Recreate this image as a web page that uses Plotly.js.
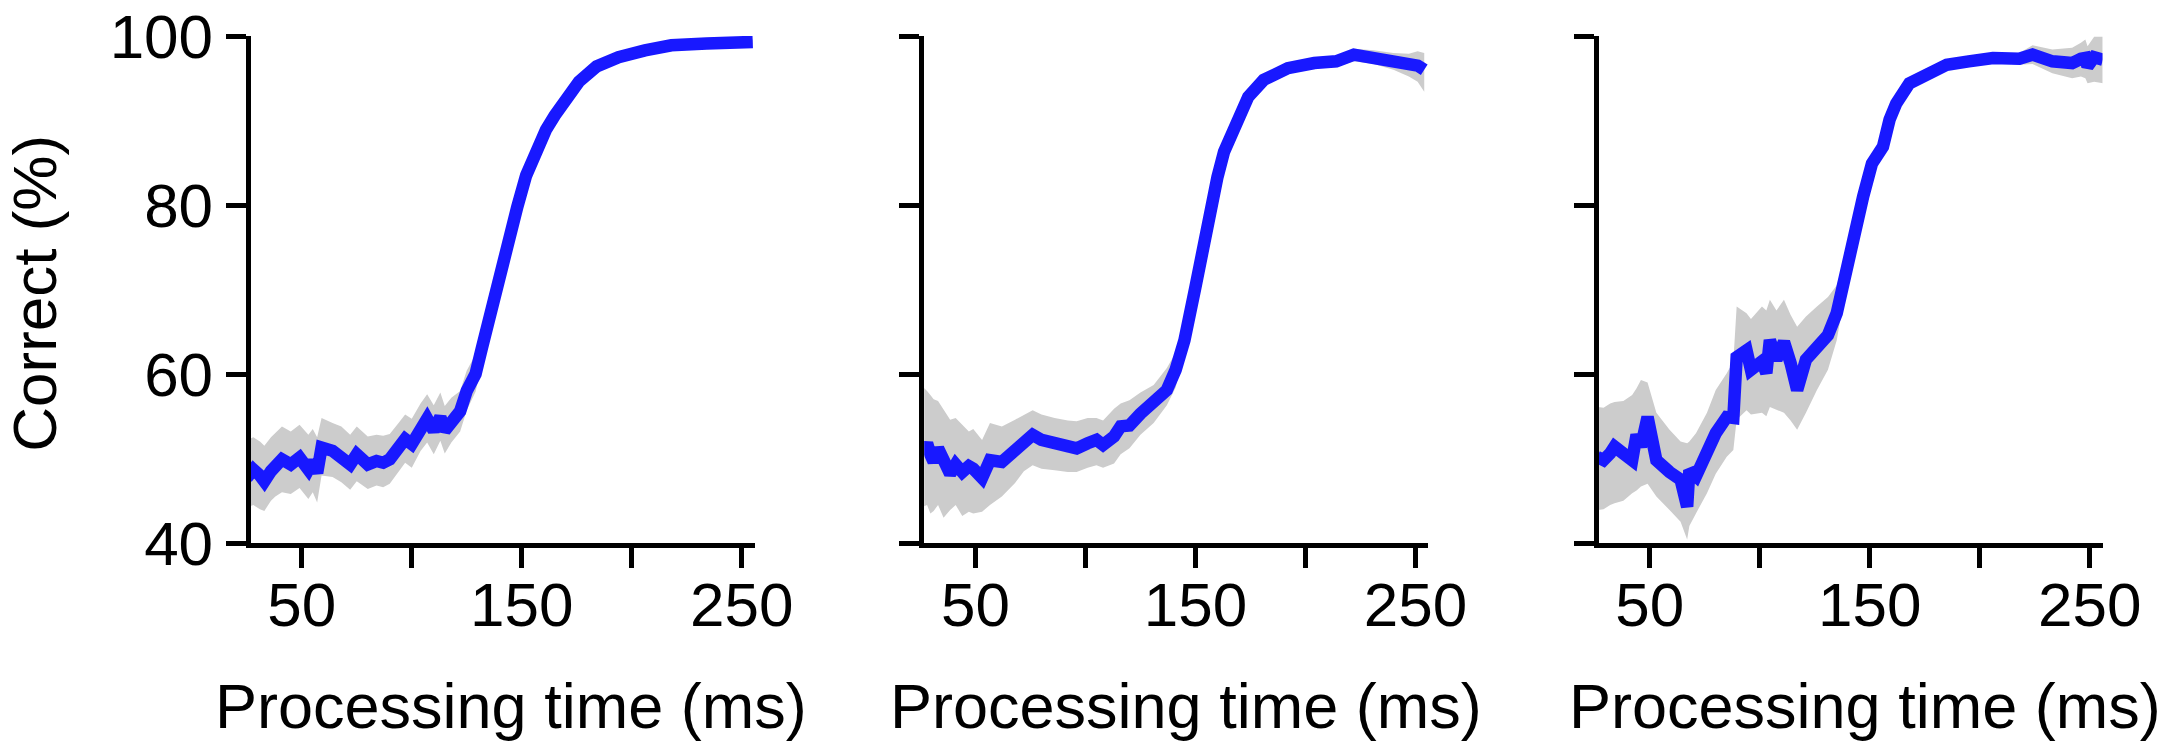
<!DOCTYPE html>
<html>
<head>
<meta charset="utf-8">
<script src="https://cdn.plot.ly/plotly-3.0.1.min.js"></script>
<style>
  html, body { margin: 0; padding: 0; background: #fff; }
  #chart { width: 2168px; height: 749px; }
</style>
</head>
<body>
<div id="chart"></div>
<script>
// values (processing time in ms, percent correct)
const timeA = [25, 28, 31, 33, 36, 38, 41, 45, 49, 53, 55, 57, 59, 64, 68, 72, 75, 80, 84, 87, 90, 94, 97, 100, 104, 107, 110, 113, 115, 118, 122, 125, 129, 132, 135, 139, 143, 148, 152, 156, 161, 165, 169, 176, 184, 194, 206, 218, 234, 255];
const meanA = [47.7, 48.7, 48.0, 47.3, 48.5, 49.1, 49.9, 49.3, 50.1, 48.7, 49.7, 48.3, 51.3, 50.9, 50.3, 49.3, 50.5, 49.3, 49.7, 49.5, 49.9, 51.3, 52.3, 51.7, 53.7, 54.7, 53.3, 54.9, 53.3, 54.5, 55.6, 58.0, 60.0, 63.2, 66.5, 70.1, 74.7, 79.8, 83.5, 86.0, 88.9, 90.6, 92.0, 94.6, 96.4, 97.5, 98.3, 98.9, 99.1, 99.3];
const lowA  = [44.2, 44.5, 44.0, 43.8, 45.0, 45.5, 46.0, 45.8, 46.5, 45.2, 46.0, 44.8, 48.0, 47.8, 47.2, 46.3, 47.3, 46.4, 46.8, 46.6, 47.0, 48.5, 49.5, 48.9, 50.9, 51.9, 50.5, 52.1, 50.6, 51.9, 53.2, 55.7, 57.9, 61.3, 64.9, 68.8, 73.6, 78.9, 82.8, 85.4, 88.4, 90.1, 91.6, 94.2, 96.0, 97.2, 98.0, 98.6, 98.8, 99.0];
const highA = [52.2, 52.5, 52.0, 51.5, 52.5, 53.0, 53.8, 53.2, 54.0, 52.8, 53.5, 52.5, 54.8, 54.2, 53.8, 52.8, 53.8, 52.6, 52.8, 52.7, 52.9, 54.2, 55.2, 54.7, 56.5, 57.6, 56.3, 57.8, 56.2, 57.2, 58.0, 60.4, 62.3, 65.2, 68.2, 71.5, 75.8, 80.7, 84.2, 86.6, 89.4, 91.1, 92.4, 95.0, 96.8, 97.8, 98.6, 99.2, 99.4, 99.6];

const timeB = [26, 28, 29.5, 31, 33, 35.5, 38.5, 41, 44, 47, 49, 53, 56.6, 62, 68, 72, 76, 80, 86, 92, 96, 101, 105, 108, 113, 116, 120, 125, 131, 137, 141, 145, 150, 154, 157, 160, 163, 168, 174, 181, 192, 204, 214, 222, 231, 240, 247, 251, 254];
const meanB = [50.5, 51.8, 50.5, 49.6, 51.2, 49.6, 48.2, 49.3, 48.4, 49.1, 48.8, 47.7, 49.8, 49.6, 51.0, 52.2, 52.8, 52.2, 51.8, 51.4, 51.2, 51.8, 52.2, 51.6, 52.6, 53.8, 53.9, 55.3, 56.7, 58.1, 60.5, 64.0, 70.3, 75.9, 79.8, 83.3, 86.3, 89.7, 92.8, 94.8, 96.2, 96.8, 97.0, 97.8, 97.5, 97.0, 96.6, 96.5, 96.0];
const lowB  = [44.3, 44.5, 43.5, 43.8, 44.5, 43.0, 43.9, 44.5, 43.2, 43.7, 43.5, 43.7, 44.5, 45.5, 47.1, 48.5, 49.2, 48.8, 48.6, 48.4, 48.4, 48.9, 49.2, 48.9, 49.4, 50.5, 51.2, 52.8, 54.2, 56.3, 58.4, 62.8, 69.3, 75.0, 79.0, 82.5, 85.6, 89.0, 92.2, 94.2, 95.6, 96.2, 96.3, 97.0, 96.7, 96.0, 95.2, 94.6, 93.4];
const highB = [58.5, 58.0, 57.5, 57.0, 56.8, 55.8, 54.6, 54.8, 54.0, 53.2, 53.5, 52.2, 54.2, 53.8, 54.6, 55.2, 55.7, 55.2, 54.8, 54.5, 54.4, 54.8, 54.8, 54.5, 55.9, 56.5, 56.9, 57.8, 58.7, 60.7, 62.5, 65.5, 71.3, 76.8, 80.6, 84.1, 87.0, 90.4, 93.4, 95.4, 96.8, 97.4, 97.7, 98.5, 98.3, 98.0, 97.9, 98.2, 98.0];

const timeC = [26, 29, 32, 34, 38, 42, 44, 46, 49, 53, 59, 64, 67, 68, 71, 76, 80, 85, 88, 89.5, 94, 96, 101, 103, 104.6, 107.6, 111, 114, 117, 121, 126, 131, 135, 138, 142, 147, 151, 156, 159, 162, 168, 176, 185, 195, 206, 218, 224, 233, 242, 246, 248, 249, 252, 256];
const meanC = [50.2, 49.8, 50.6, 51.4, 50.6, 49.8, 52.8, 51.4, 54.9, 49.8, 48.4, 47.5, 44.3, 48.6, 47.9, 51.0, 53.0, 54.9, 54.8, 62.0, 62.8, 60.5, 61.5, 60.1, 64.0, 61.7, 63.8, 61.3, 58.1, 61.7, 63.0, 64.6, 67.2, 71.0, 76.0, 81.0, 84.9, 86.9, 90.1, 92.0, 94.4, 95.6, 96.6, 97.0, 97.4, 97.3, 97.8, 97.0, 96.8, 97.3, 97.4, 96.4, 97.5, 97.2];
const lowC  = [43.9, 44.0, 44.5, 44.7, 45.0, 45.9, 46.2, 46.7, 47.0, 45.5, 43.9, 42.5, 40.4, 42.0, 43.5, 45.9, 48.2, 50.2, 51.0, 54.6, 55.7, 55.2, 55.4, 55.0, 56.1, 55.8, 55.4, 54.5, 53.4, 55.4, 58.1, 60.5, 64.0, 68.5, 74.5, 79.8, 83.8, 85.9, 89.2, 91.2, 93.7, 95.0, 96.1, 96.5, 96.9, 96.6, 96.7, 95.6, 95.0, 95.2, 95.0, 94.4, 94.6, 94.4];
const highC = [56.1, 56.0, 56.5, 56.7, 56.8, 57.5, 58.3, 59.3, 59.0, 55.4, 53.4, 52.0, 51.8, 52.0, 53.0, 55.4, 58.1, 60.1, 61.5, 68.0, 67.2, 66.5, 68.0, 67.5, 68.8, 67.5, 68.8, 67.0, 65.6, 66.8, 68.0, 69.1, 70.5, 73.2, 77.7, 82.3, 86.0, 87.9, 91.0, 92.8, 95.1, 96.2, 97.1, 97.5, 97.9, 98.0, 98.9, 98.4, 98.6, 99.2, 99.6, 98.8, 99.9, 99.9];

const xTicks = [50, 100, 150, 200, 250];
const xTickText = ['50', '', '150', '', '250'];
const yTicks = [40, 60, 80, 100];
const yTickText = ['40', '60', '80', '100'];

const xTitle = 'Processing time (ms)';
const yTitle = 'Correct (%)';

const BLUE = 'rgb(24,24,255)';
const BAND = '#cccccc';
const FONT = "'Liberation Sans', Arial, Helvetica, sans-serif";

const panels = [
    { t: timeA, m: meanA, lo: lowA, hi: highA },
    { t: timeB, m: meanB, lo: lowB, hi: highB },
    { t: timeC, m: meanC, lo: lowC, hi: highC }
];

// pixel positions of each panel (left edge / right edge of the data area)
const W = 2168, H = 749;
const xDomains = [[250.5, 754.5], [924.2, 1428.2], [1598.5, 2102.5]].map(d => [d[0] / W, d[1] / W]);
const titleCenters = [511, 1186, 1865].map(v => v / W);

const traces = [];
panels.forEach((p, i) => {
    const xa = i === 0 ? 'x' : 'x' + (i + 1);
    const ya = i === 0 ? 'y' : 'y' + (i + 1);
    traces.push({
        x: p.t, y: p.lo, xaxis: xa, yaxis: ya,
        type: 'scatter', mode: 'lines',
        line: { width: 0, color: BAND },
        hoverinfo: 'skip'
    });
    traces.push({
        x: p.t, y: p.hi, xaxis: xa, yaxis: ya,
        type: 'scatter', mode: 'lines',
        fill: 'tonexty', fillcolor: BAND,
        line: { width: 0, color: BAND },
        hoverinfo: 'skip'
    });
    traces.push({
        x: p.t, y: p.m, xaxis: xa, yaxis: ya,
        type: 'scatter', mode: 'lines',
        line: { width: 12.5, color: BLUE },
        hoverinfo: 'skip'
    });
});

const axisBase = {
    showline: true, linecolor: '#000', linewidth: 5,
    ticks: 'outside', ticklen: 20, tickwidth: 5, tickcolor: '#000',
    showgrid: false, zeroline: false,
    tickfont: { family: FONT, size: 62, color: '#000' },
    fixedrange: true
};

const layout = {
    width: W, height: H,
    margin: { l: 0, r: 0, t: 0, b: 0 },
    paper_bgcolor: '#fff', plot_bgcolor: '#fff',
    showlegend: false,
    hovermode: false,
    font: { family: FONT, color: '#000' },
    annotations: []
};

xDomains.forEach((d, i) => {
    const sfx = i === 0 ? '' : String(i + 1);
    layout['xaxis' + sfx] = Object.assign({}, axisBase, {
        domain: d, range: [26.7, 255.8],
        tickvals: xTicks, ticktext: xTickText,
        ticklabelstandoff: -16,
        anchor: 'y' + sfx
    });
    layout['yaxis' + sfx] = Object.assign({}, axisBase, {
        domain: [1 - 543 / H, 1 - 36 / H], range: [40, 100],
        tickvals: yTicks, ticktext: yTickText,
        showticklabels: i === 0,
        anchor: 'x' + sfx
    });
    layout.annotations.push({
        text: xTitle, xref: 'paper', yref: 'paper',
        x: titleCenters[i], y: 0.0574, xanchor: 'center', yanchor: 'middle',
        showarrow: false, font: { family: FONT, size: 63, color: '#000' }
    });
});

layout.annotations.push({
    text: yTitle, xref: 'paper', yref: 'paper',
    x: 0.0161, y: 0.609, xanchor: 'center', yanchor: 'middle',
    textangle: -90, showarrow: false,
    font: { family: FONT, size: 62, color: '#000' }
});

Plotly.newPlot('chart', traces, layout, { displayModeBar: false, staticPlot: true });
</script>
</body>
</html>
